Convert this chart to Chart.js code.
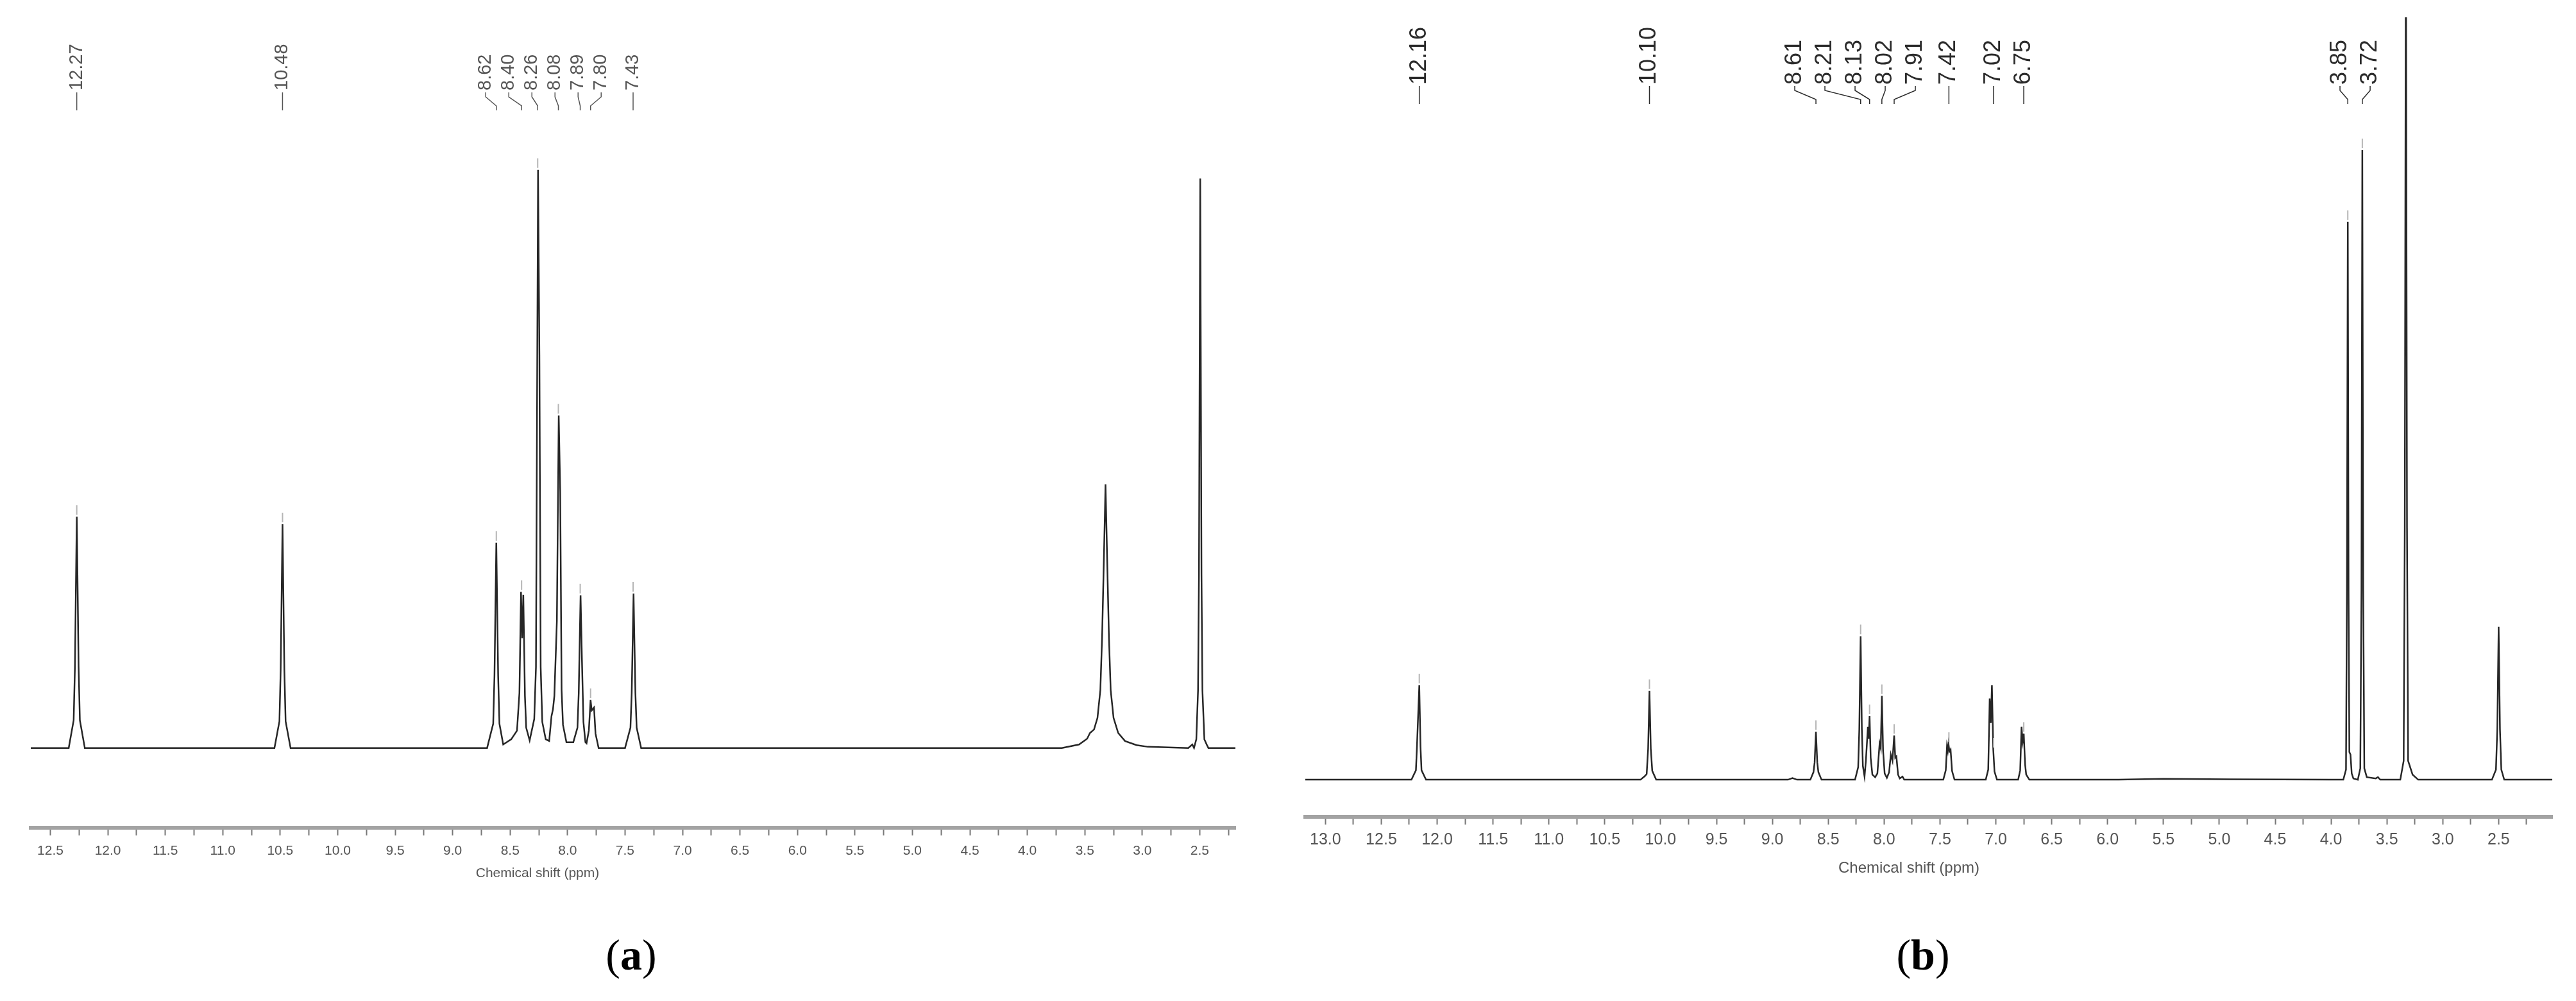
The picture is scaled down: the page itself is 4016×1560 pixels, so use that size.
<!DOCTYPE html>
<html>
<head>
<meta charset="utf-8">
<script src="https://cdn.jsdelivr.net/npm/chart.js@4.4.1/dist/chart.umd.min.js"></script>
<style>
  body { margin: 0; background: #fff; }
  #page { position: relative; width: 4016px; height: 1560px; overflow: hidden; background: #fff; }
  canvas { position: absolute; top: 0; }
  .axis-title { position: absolute; font-family: 'Liberation Sans', Arial, sans-serif; color: #555; white-space: nowrap; transform: translate(-50%, -50%); }
  .caption { position: absolute; font-family: 'Liberation Serif', 'Times New Roman', serif; font-size: 68px; color: #000; transform: translate(-50%, -50%); }
</style>
</head>
<body>
<div id="page">
  <canvas id="nmrA" width="2000" height="1420" style="left:0;width:2000px;height:1420px"></canvas>
  <canvas id="nmrB" width="2016" height="1420" style="left:2000px;width:2016px;height:1420px"></canvas>
  <div class="axis-title" style="left:838px;top:1360px;font-size:21px">Chemical shift (ppm)</div>
  <div class="axis-title" style="left:2976px;top:1352px;font-size:24px">Chemical shift (ppm)</div>
  <div class="caption" style="left:984px;top:1488px">(<b>a</b>)</div>
  <div class="caption" style="left:2998px;top:1488px">(<b>b</b>)</div>
</div>
<script>
// spectrum (a): [ppm, intensity], 8.26 peak = 100
const spectrumA = [
  [12.68, 0], [12.34, 0], [12.297, 4.8], [12.286, 14], [12.27, 40.0], [12.254, 14], [12.243, 4.8], [12.20, 0],
  [10.55, 0], [10.507, 4.6], [10.496, 13.5], [10.48, 38.7], [10.464, 13.5], [10.453, 4.6], [10.41, 0],
  [8.70, 0], [8.647, 4.2], [8.636, 12.5], [8.62, 35.5], [8.604, 12.5], [8.593, 4.2], [8.56, 0.6],
  [8.49, 1.5], [8.44, 3], [8.419, 9.5], [8.405, 27.0], [8.395, 19.0], [8.385, 26.5], [8.371, 9.0], [8.36, 3.5], [8.33, 1.3],
  [8.29, 5], [8.275, 14], [8.257, 100], [8.245, 68], [8.234, 14], [8.22, 4.5], [8.19, 1.5], [8.16, 1.2],
  [8.14, 5.5], [8.127, 6.7], [8.115, 9], [8.093, 22], [8.077, 57.5], [8.064, 44.3], [8.052, 10], [8.04, 4], [8.01, 1.0],
  [7.95, 1.0], [7.914, 3.5], [7.903, 9.5], [7.887, 26.4], [7.875, 15.3], [7.862, 4.5], [7.845, 1.0], [7.835, 0.8],
  [7.815, 3], [7.80, 8.3], [7.79, 6.5], [7.77, 7.0], [7.757, 2.5], [7.73, 0],
  [7.50, 0], [7.453, 3.5], [7.442, 9.5], [7.426, 26.7], [7.410, 9.5], [7.399, 3.5], [7.36, 0],
  [3.70, 0], [3.55, 0.6], [3.48, 1.6], [3.455, 2.6], [3.42, 3.2], [3.39, 5.2], [3.365, 10], [3.35, 19], [3.335, 32], [3.32, 45.6],
  [3.305, 32], [3.29, 19], [3.275, 10], [3.25, 5.2], [3.21, 2.6], [3.15, 1.2], [3.05, 0.5], [2.95, 0.2],
  [2.60, 0], [2.565, 0.6], [2.55, 0], [2.53, 1.5], [2.515, 10], [2.507, 30], [2.496, 98.5], [2.485, 30], [2.477, 10],
  [2.46, 1.5], [2.44, 0.6], [2.425, 0], [2.18, 0]
];

// spectrum (b): [ppm, intensity], 3.72 peak = 100
const spectrumB = [
  [13.19, 0], [12.23, 0], [12.19, 1.5], [12.181, 5.2], [12.16, 15.0], [12.149, 5.2], [12.14, 1.5], [12.10, 0],
  [10.18, 0], [10.14, 0.6], [10.125, 0.9], [10.112, 4.9], [10.10, 14.1], [10.088, 4.9], [10.075, 1.4], [10.04, 0],
  [8.86, 0], [8.82, 0.25], [8.78, 0],
  [8.66, 0], [8.632, 1.2], [8.622, 2.7], [8.61, 7.6], [8.598, 2.7], [8.588, 1.2], [8.56, 0],
  [8.26, 0], [8.232, 2.0], [8.222, 8.0], [8.21, 22.8], [8.199, 8.0], [8.19, 2.2], [8.175, 0.5], [8.163, 3.0],
  [8.145, 8.4], [8.138, 6.5], [8.13, 10.1], [8.12, 3.5], [8.105, 0.8], [8.08, 0.4],
  [8.06, 1.0], [8.04, 5.8], [8.03, 5.0], [8.02, 13.3], [8.009, 4.6], [7.995, 1.0], [7.975, 0.3],
  [7.955, 1.2], [7.94, 4.0], [7.925, 3.0], [7.91, 7.0], [7.90, 3.5], [7.89, 3.7], [7.875, 0.8], [7.86, 0.2],
  [7.835, 0.5], [7.82, 0],
  [7.47, 0], [7.448, 1.5], [7.437, 5.3], [7.43, 4.6], [7.424, 5.7], [7.415, 4.5], [7.405, 4.8], [7.392, 1.4], [7.37, 0],
  [7.09, 0], [7.068, 1.6], [7.055, 12.9], [7.045, 9], [7.035, 15.0], [7.023, 4.8], [7.012, 1.3], [6.99, 0],
  [6.80, 0], [6.782, 1.5], [6.77, 8.4], [6.76, 6.0], [6.75, 7.3], [6.738, 2.4], [6.728, 0.8], [6.70, 0],
  [5.9, 0], [5.5, 0.15], [4.9, 0.05], [4.0, 0],
  [3.89, 0], [3.866, 1.6], [3.858, 30], [3.85, 88.6], [3.843, 30], [3.836, 4.4], [3.826, 4.0], [3.815, 1.0], [3.80, 0.2],
  [3.76, 0], [3.738, 1.8], [3.728, 30], [3.72, 100], [3.712, 30], [3.702, 1.8], [3.68, 0.4], [3.60, 0.2], [3.58, 0.4], [3.56, 0],
  [3.38, 0], [3.35, 3], [3.34, 40], [3.33, 140], [3.32, 40], [3.31, 3], [3.27, 0.8], [3.22, 0],
  [2.56, 0], [2.524, 1.6], [2.512, 8], [2.50, 24.3], [2.488, 8], [2.476, 1.6], [2.45, 0], [1.99, 0]
];

// picked peaks written above each spectrum
const peaksA = [12.27, 10.48, 8.62, 8.40, 8.26, 8.08, 7.89, 7.80, 7.43];
const peaksB = [12.16, 10.10, 8.61, 8.21, 8.13, 8.02, 7.91, 7.42, 7.02, 6.75, 3.85, 3.72];

// axis ranges (ppm) and intensity window
const rangeA = [2.19, 12.67];
const rangeB = [2.02, 13.18];
const yRangeA = [-13.8, 109.4];
const yRangeB = [-5.9, 121.1];
const tickStep = 0.25;

Chart.defaults.font.family = "'Liberation Sans', Arial, sans-serif";

// spread crowded labels, centring each cluster over its peaks
function spreadLabels(xs, gap) {
  let groups = xs.map(x => ({ xs: [x], center: x }));
  let merged = true;
  while (merged) {
    merged = false;
    for (let i = 0; i < groups.length - 1; i++) {
      const a = groups[i], b = groups[i + 1];
      const aRight = a.center + (a.xs.length - 1) * gap / 2;
      const bLeft = b.center - (b.xs.length - 1) * gap / 2;
      if (bLeft - aRight < gap) {
        const all = a.xs.concat(b.xs);
        groups.splice(i, 2, { xs: all, center: (all[0] + all[all.length - 1]) / 2 });
        merged = true;
        break;
      }
    }
  }
  const out = [];
  groups.forEach(g => g.xs.forEach((x, k) => out.push(g.center + (k - (g.xs.length - 1) / 2) * gap)));
  return out;
}

const peakLabels = {
  id: 'peakLabels',
  afterDraw(chart, args, opts) {
    const { ctx } = chart;
    const x = chart.scales.x, y = chart.scales.y;
    const data = chart.data.datasets[0].data;
    const px = opts.values.map(v => x.getPixelForValue(v));
    const lx = spreadLabels(px, opts.gap);
    ctx.save();
    opts.values.forEach((v, i) => {
      let top = 0;
      data.forEach(p => { if (Math.abs(p.x - v) <= 0.015 && p.y > top) top = p.y; });
      const ay = y.getPixelForValue(top);
      // little marker above the apex
      ctx.strokeStyle = '#b5b5b5';
      ctx.lineWidth = 2;
      ctx.beginPath();
      ctx.moveTo(px[i], ay - 3);
      ctx.lineTo(px[i], ay - 18);
      ctx.stroke();
      // leader line
      ctx.strokeStyle = opts.color;
      ctx.lineWidth = 1.5;
      ctx.beginPath();
      ctx.moveTo(lx[i], opts.leaderTop);
      ctx.lineTo(lx[i], opts.leaderTop + 7);
      ctx.lineTo(px[i], opts.leaderBottom - 7);
      ctx.lineTo(px[i], opts.leaderBottom);
      ctx.stroke();
      // rotated value
      ctx.save();
      ctx.translate(lx[i], opts.textBottom);
      ctx.rotate(-Math.PI / 2);
      ctx.fillStyle = opts.color;
      ctx.font = opts.font;
      ctx.textAlign = 'left';
      ctx.textBaseline = 'middle';
      ctx.fillText(v.toFixed(2), 0, 0);
      ctx.restore();
    });
    ctx.restore();
  }
};

function makeSpectrum(id, spectrum, xr, yr, pad, tickFont, tickPad, labelOpts) {
  return new Chart(document.getElementById(id), {
    type: 'line',
    data: {
      datasets: [{
        data: spectrum.map(p => ({ x: p[0], y: p[1] })),
        borderColor: '#262626',
        borderWidth: 2.5,
        pointRadius: 0,
        tension: 0,
        fill: false
      }]
    },
    options: {
      responsive: false,
      animation: false,
      devicePixelRatio: 1,
      layout: { padding: pad, autoPadding: false },
      plugins: {
        legend: { display: false },
        tooltip: { enabled: false },
        peakLabels: labelOpts
      },
      scales: {
        x: {
          type: 'linear',
          reverse: true,
          min: xr[0],
          max: xr[1],
          afterFit(scale) { scale.height = 80; },
          border: { display: true, color: '#a3a3a3', width: 6 },
          grid: { drawOnChartArea: false, drawTicks: true, tickLength: 12, tickColor: '#777', tickWidth: 2 },
          ticks: {
            stepSize: tickStep,
            includeBounds: false,
            autoSkip: false,
            maxRotation: 0,
            minRotation: 0,
            padding: tickPad,
            color: '#555',
            font: { size: tickFont },
            callback: v => Math.abs(v * 2 - Math.round(v * 2)) < 1e-6 ? Number(v).toFixed(1) : ''
          }
        },
        y: {
          display: false,
          min: yr[0],
          max: yr[1]
        }
      }
    },
    plugins: [peakLabels]
  });
}

makeSpectrum('nmrA', spectrumA, rangeA, yRangeA,
  { left: 48, right: 74, top: 180, bottom: 50 }, 21, 12,
  { values: peaksA, gap: 36, textBottom: 141, leaderTop: 144, leaderBottom: 172, color: '#555', font: '29px "Liberation Sans", Arial, sans-serif' });

makeSpectrum('nmrB', spectrumB, rangeB, yRangeB,
  { left: 35, right: 37, top: 27, bottom: 67 }, 25, 9,
  { values: peaksB, gap: 47, textBottom: 132, leaderTop: 134, leaderBottom: 162, color: '#2b2b2b', font: '36px "Liberation Sans", Arial, sans-serif' });
</script>
</body>
</html>
